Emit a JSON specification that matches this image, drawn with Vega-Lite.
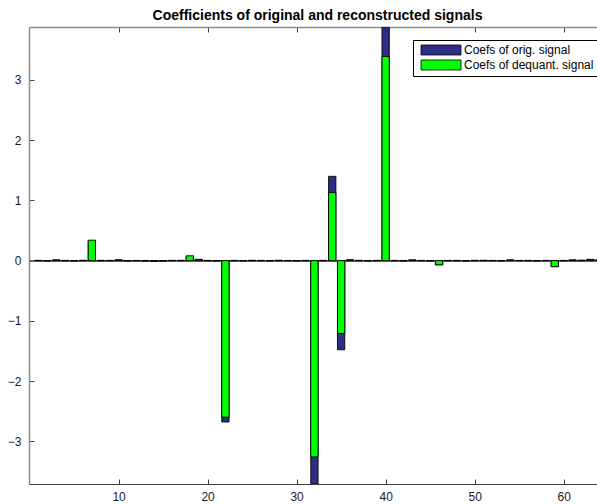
{
  "$schema": "https://vega.github.io/schema/vega-lite/v6.json",
  "width": 568,
  "height": 457,
  "autosize": "none",
  "padding": {"left": 29, "top": 27, "right": 0, "bottom": 20},
  "background": "white",
  "title": {
    "text": "Coefficients of original and reconstructed signals",
    "font": "Liberation Sans",
    "fontSize": 14,
    "fontWeight": "bold",
    "color": "#000000",
    "baseline": "alphabetic",
    "offset": -7,
    "dx": 4.5
  },
  "config": {
    "view": {"stroke": null},
    "axis": {
      "labelFont": "Liberation Sans",
      "labelFontSize": 12,
      "labelColor": "#1a1a1a",
      "grid": false,
      "title": null
    }
  },
  "data": {
    "values": [
      {"k": 1, "series": "Coefs of orig. signal", "coef": 0.005},
      {"k": 2, "series": "Coefs of orig. signal", "coef": -0.003},
      {"k": 3, "series": "Coefs of orig. signal", "coef": 0.01},
      {"k": 4, "series": "Coefs of orig. signal", "coef": 0.004},
      {"k": 5, "series": "Coefs of orig. signal", "coef": -0.004},
      {"k": 6, "series": "Coefs of orig. signal", "coef": 0.006},
      {"k": 7, "series": "Coefs of orig. signal", "coef": 0.33},
      {"k": 8, "series": "Coefs of orig. signal", "coef": 0.004},
      {"k": 9, "series": "Coefs of orig. signal", "coef": 0.003},
      {"k": 10, "series": "Coefs of orig. signal", "coef": 0.012},
      {"k": 11, "series": "Coefs of orig. signal", "coef": -0.004},
      {"k": 12, "series": "Coefs of orig. signal", "coef": 0.003},
      {"k": 13, "series": "Coefs of orig. signal", "coef": -0.006},
      {"k": 14, "series": "Coefs of orig. signal", "coef": -0.012},
      {"k": 15, "series": "Coefs of orig. signal", "coef": -0.008},
      {"k": 16, "series": "Coefs of orig. signal", "coef": 0.004},
      {"k": 17, "series": "Coefs of orig. signal", "coef": 0.005},
      {"k": 18, "series": "Coefs of orig. signal", "coef": 0.07},
      {"k": 19, "series": "Coefs of orig. signal", "coef": 0.02},
      {"k": 20, "series": "Coefs of orig. signal", "coef": 0.004},
      {"k": 21, "series": "Coefs of orig. signal", "coef": -0.005},
      {"k": 22, "series": "Coefs of orig. signal", "coef": -2.68},
      {"k": 23, "series": "Coefs of orig. signal", "coef": 0.004},
      {"k": 24, "series": "Coefs of orig. signal", "coef": -0.003},
      {"k": 25, "series": "Coefs of orig. signal", "coef": 0.005},
      {"k": 26, "series": "Coefs of orig. signal", "coef": 0.003},
      {"k": 27, "series": "Coefs of orig. signal", "coef": -0.004},
      {"k": 28, "series": "Coefs of orig. signal", "coef": 0.006},
      {"k": 29, "series": "Coefs of orig. signal", "coef": 0.002},
      {"k": 30, "series": "Coefs of orig. signal", "coef": -0.003},
      {"k": 31, "series": "Coefs of orig. signal", "coef": 0.004},
      {"k": 32, "series": "Coefs of orig. signal", "coef": -3.71},
      {"k": 33, "series": "Coefs of orig. signal", "coef": 0.004},
      {"k": 34, "series": "Coefs of orig. signal", "coef": 1.4},
      {"k": 35, "series": "Coefs of orig. signal", "coef": -1.48},
      {"k": 36, "series": "Coefs of orig. signal", "coef": 0.012},
      {"k": 37, "series": "Coefs of orig. signal", "coef": 0.005},
      {"k": 38, "series": "Coefs of orig. signal", "coef": -0.003},
      {"k": 39, "series": "Coefs of orig. signal", "coef": 0.004},
      {"k": 40, "series": "Coefs of orig. signal", "coef": 3.88},
      {"k": 41, "series": "Coefs of orig. signal", "coef": 0.003},
      {"k": 42, "series": "Coefs of orig. signal", "coef": -0.004},
      {"k": 43, "series": "Coefs of orig. signal", "coef": 0.01},
      {"k": 44, "series": "Coefs of orig. signal", "coef": 0.003},
      {"k": 45, "series": "Coefs of orig. signal", "coef": -0.004},
      {"k": 46, "series": "Coefs of orig. signal", "coef": -0.07},
      {"k": 47, "series": "Coefs of orig. signal", "coef": 0.003},
      {"k": 48, "series": "Coefs of orig. signal", "coef": 0.004},
      {"k": 49, "series": "Coefs of orig. signal", "coef": -0.003},
      {"k": 50, "series": "Coefs of orig. signal", "coef": 0.005},
      {"k": 51, "series": "Coefs of orig. signal", "coef": 0.006},
      {"k": 52, "series": "Coefs of orig. signal", "coef": 0.003},
      {"k": 53, "series": "Coefs of orig. signal", "coef": -0.003},
      {"k": 54, "series": "Coefs of orig. signal", "coef": 0.008},
      {"k": 55, "series": "Coefs of orig. signal", "coef": 0.004},
      {"k": 56, "series": "Coefs of orig. signal", "coef": 0.004},
      {"k": 57, "series": "Coefs of orig. signal", "coef": -0.003},
      {"k": 58, "series": "Coefs of orig. signal", "coef": 0.004},
      {"k": 59, "series": "Coefs of orig. signal", "coef": -0.1},
      {"k": 60, "series": "Coefs of orig. signal", "coef": 0.003},
      {"k": 61, "series": "Coefs of orig. signal", "coef": 0.01},
      {"k": 62, "series": "Coefs of orig. signal", "coef": 0.008},
      {"k": 63, "series": "Coefs of orig. signal", "coef": 0.02},
      {"k": 64, "series": "Coefs of orig. signal", "coef": 0.01},
      {"k": 1, "series": "Coefs of dequant. signal", "coef": 0},
      {"k": 2, "series": "Coefs of dequant. signal", "coef": 0},
      {"k": 3, "series": "Coefs of dequant. signal", "coef": 0.012},
      {"k": 4, "series": "Coefs of dequant. signal", "coef": 0},
      {"k": 5, "series": "Coefs of dequant. signal", "coef": 0},
      {"k": 6, "series": "Coefs of dequant. signal", "coef": 0},
      {"k": 7, "series": "Coefs of dequant. signal", "coef": 0.34},
      {"k": 8, "series": "Coefs of dequant. signal", "coef": 0},
      {"k": 9, "series": "Coefs of dequant. signal", "coef": 0},
      {"k": 10, "series": "Coefs of dequant. signal", "coef": 0.012},
      {"k": 11, "series": "Coefs of dequant. signal", "coef": 0},
      {"k": 12, "series": "Coefs of dequant. signal", "coef": 0},
      {"k": 13, "series": "Coefs of dequant. signal", "coef": 0},
      {"k": 14, "series": "Coefs of dequant. signal", "coef": -0.012},
      {"k": 15, "series": "Coefs of dequant. signal", "coef": 0},
      {"k": 16, "series": "Coefs of dequant. signal", "coef": 0},
      {"k": 17, "series": "Coefs of dequant. signal", "coef": 0},
      {"k": 18, "series": "Coefs of dequant. signal", "coef": 0.08},
      {"k": 19, "series": "Coefs of dequant. signal", "coef": 0.02},
      {"k": 20, "series": "Coefs of dequant. signal", "coef": 0},
      {"k": 21, "series": "Coefs of dequant. signal", "coef": 0},
      {"k": 22, "series": "Coefs of dequant. signal", "coef": -2.6},
      {"k": 23, "series": "Coefs of dequant. signal", "coef": 0},
      {"k": 24, "series": "Coefs of dequant. signal", "coef": 0},
      {"k": 25, "series": "Coefs of dequant. signal", "coef": 0},
      {"k": 26, "series": "Coefs of dequant. signal", "coef": 0},
      {"k": 27, "series": "Coefs of dequant. signal", "coef": 0},
      {"k": 28, "series": "Coefs of dequant. signal", "coef": 0},
      {"k": 29, "series": "Coefs of dequant. signal", "coef": 0},
      {"k": 30, "series": "Coefs of dequant. signal", "coef": 0},
      {"k": 31, "series": "Coefs of dequant. signal", "coef": 0},
      {"k": 32, "series": "Coefs of dequant. signal", "coef": -3.26},
      {"k": 33, "series": "Coefs of dequant. signal", "coef": 0},
      {"k": 34, "series": "Coefs of dequant. signal", "coef": 1.13},
      {"k": 35, "series": "Coefs of dequant. signal", "coef": -1.21},
      {"k": 36, "series": "Coefs of dequant. signal", "coef": 0.012},
      {"k": 37, "series": "Coefs of dequant. signal", "coef": 0},
      {"k": 38, "series": "Coefs of dequant. signal", "coef": 0},
      {"k": 39, "series": "Coefs of dequant. signal", "coef": 0},
      {"k": 40, "series": "Coefs of dequant. signal", "coef": 3.39},
      {"k": 41, "series": "Coefs of dequant. signal", "coef": 0},
      {"k": 42, "series": "Coefs of dequant. signal", "coef": 0},
      {"k": 43, "series": "Coefs of dequant. signal", "coef": 0.012},
      {"k": 44, "series": "Coefs of dequant. signal", "coef": 0},
      {"k": 45, "series": "Coefs of dequant. signal", "coef": 0},
      {"k": 46, "series": "Coefs of dequant. signal", "coef": -0.07},
      {"k": 47, "series": "Coefs of dequant. signal", "coef": 0},
      {"k": 48, "series": "Coefs of dequant. signal", "coef": 0},
      {"k": 49, "series": "Coefs of dequant. signal", "coef": 0},
      {"k": 50, "series": "Coefs of dequant. signal", "coef": 0},
      {"k": 51, "series": "Coefs of dequant. signal", "coef": 0},
      {"k": 52, "series": "Coefs of dequant. signal", "coef": 0},
      {"k": 53, "series": "Coefs of dequant. signal", "coef": 0},
      {"k": 54, "series": "Coefs of dequant. signal", "coef": 0.012},
      {"k": 55, "series": "Coefs of dequant. signal", "coef": 0},
      {"k": 56, "series": "Coefs of dequant. signal", "coef": 0},
      {"k": 57, "series": "Coefs of dequant. signal", "coef": 0},
      {"k": 58, "series": "Coefs of dequant. signal", "coef": 0},
      {"k": 59, "series": "Coefs of dequant. signal", "coef": -0.1},
      {"k": 60, "series": "Coefs of dequant. signal", "coef": 0},
      {"k": 61, "series": "Coefs of dequant. signal", "coef": 0.012},
      {"k": 62, "series": "Coefs of dequant. signal", "coef": 0},
      {"k": 63, "series": "Coefs of dequant. signal", "coef": 0.02},
      {"k": 64, "series": "Coefs of dequant. signal", "coef": 0.012}
    ]
  },
  "layer": [
    {
      "mark": {"type": "rule", "color": "#6e6e6e", "strokeWidth": 1},
      "encoding": {"y": {"datum": 0, "type": "quantitative"}}
    },
    {
      "mark": {"type": "bar", "size": 7.3, "stroke": "#000000", "strokeWidth": 0.9, "clip": true},
      "encoding": {
        "x": {
          "field": "k",
          "type": "quantitative",
          "scale": {"domain": [0.5, 63.18], "nice": false, "zero": false},
          "axis": {
            "orient": "bottom",
            "values": [10, 20, 30, 40, 50, 60],
            "format": "d",
            "domainColor": "#404040",
            "domainWidth": 1,
            "tickColor": "#404040",
            "tickSize": -5,
            "labelPadding": 12
          }
        },
        "y": {
          "field": "coef",
          "type": "quantitative",
          "stack": null,
          "scale": {"domain": [-3.71, 3.88], "nice": false, "zero": false},
          "axis": {
            "orient": "left",
            "values": [-3, -2, -1, 0, 1, 2, 3],
            "format": "d",
            "domainColor": "#8c8c8c",
            "domainWidth": 1.5,
            "tickColor": "#404040",
            "tickSize": -5,
            "labelPadding": 13
          }
        },
        "color": {
          "field": "series",
          "type": "nominal",
          "sort": null,
          "scale": {
            "domain": ["Coefs of orig. signal", "Coefs of dequant. signal"],
            "range": ["#2e2e84", "#00ff00"]
          },
          "legend": {
            "title": null,
            "orient": "none",
            "legendX": 384,
            "legendY": 13,
            "fillColor": "#ffffff",
            "strokeColor": "#000000",
            "padding": 4,
            "rowPadding": 1,
            "symbolType": "M-4,-1H4V1H-4Z",
            "symbolSize": 100,
            "symbolOffset": 18,
            "symbolStrokeColor": "#000000",
            "symbolStrokeWidth": 0.8,
            "symbolOpacity": 1,
            "labelFont": "Liberation Sans",
            "labelFontSize": 12,
            "labelColor": "#000000",
            "labelOffset": 17,
            "labelLimit": 300
          }
        },
        "order": {"value": 0}
      }
    },
    {
      "mark": {"type": "tick", "opacity": 0},
      "encoding": {
        "x": {
          "field": "k",
          "type": "quantitative",
          "axis": {
            "orient": "top",
            "values": [10, 20, 30, 40, 50, 60],
            "labels": false,
            "domainColor": "#8c8c8c",
            "domainWidth": 1.5,
            "tickColor": "#404040",
            "tickSize": -5
          }
        }
      }
    }
  ]
}
